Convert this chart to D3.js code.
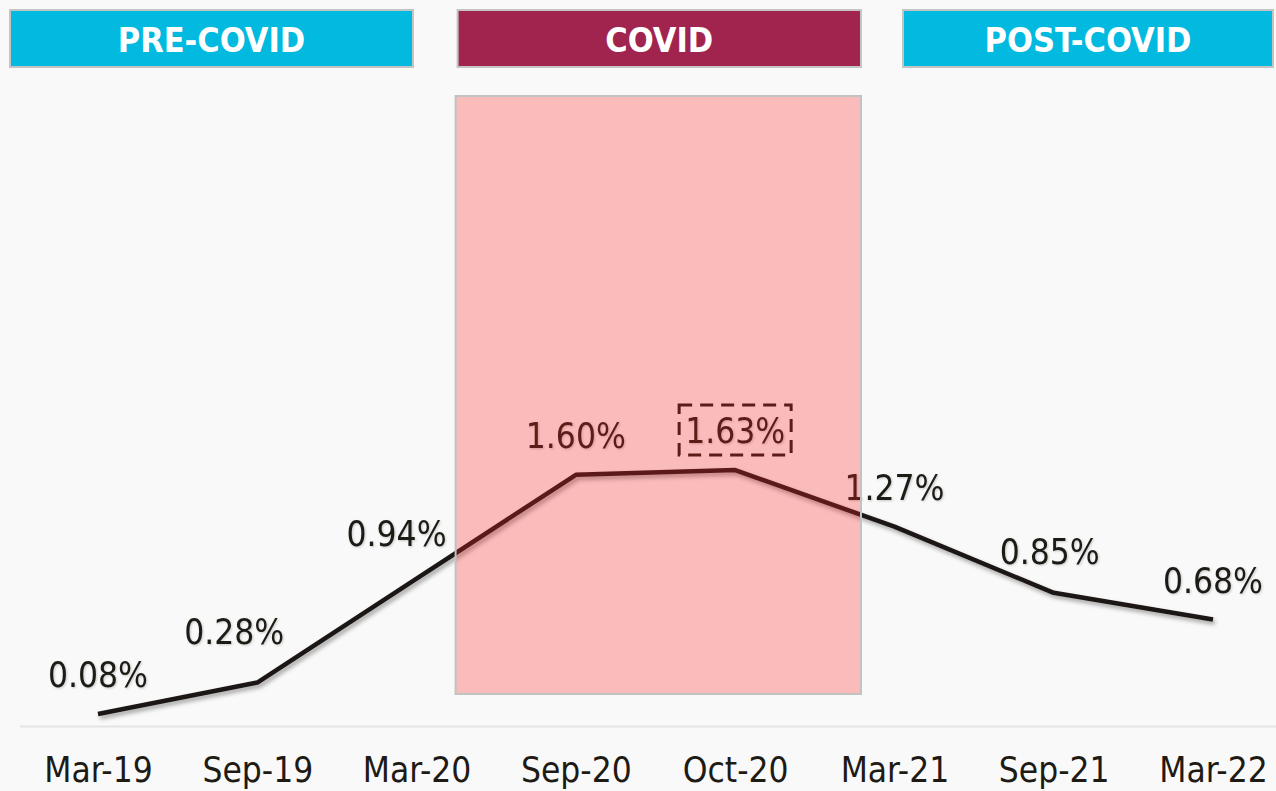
<!DOCTYPE html>
<html>
<head>
<meta charset="utf-8">
<script src="https://cdn.jsdelivr.net/npm/d3@7"></script>
<style>
  html, body { margin: 0; padding: 0; background: #f9f9fa; overflow: hidden; }
  svg { display: block; }
</style>
</head>
<body>
<div id="chart"></div>
<script>
// data
const periods = ["Mar-19", "Sep-19", "Mar-20", "Sep-20", "Oct-20", "Mar-21", "Sep-21", "Mar-22"];
const rates = [0.08, 0.28, 0.94, 1.60, 1.63, 1.27, 0.85, 0.68];
const phases = ["PRE-COVID", "COVID", "POST-COVID"];
const phaseColors = ["#02b9df", "#a1244e", "#02b9df"];
const highlight = "Oct-20";

const W = 1276, H = 791;
const baseY = 726.6;
const font = "'DejaVu Sans Condensed', 'DejaVu Sans', sans-serif";

let svg = d3.select("#chart").append("svg")
    .attr("width", W)
    .attr("height", H);

let defs = svg.append("defs");
let shadow = defs.append("filter").attr("id", "shadow")
    .attr("x", "-10%").attr("y", "-10%").attr("width", "130%").attr("height", "150%");
shadow.append("feDropShadow")
    .attr("dx", 2).attr("dy", 3).attr("stdDeviation", 2)
    .attr("flood-color", "#000").attr("flood-opacity", 0.35);
let tshadow = defs.append("filter").attr("id", "tshadow");
tshadow.append("feDropShadow")
    .attr("dx", 1).attr("dy", 1).attr("stdDeviation", 1)
    .attr("flood-color", "#000").attr("flood-opacity", 0.2);

svg.append("rect").attr("width", W).attr("height", H).attr("fill", "#f9f9fa");

// scales
let x = d3.scalePoint().domain(periods).range([98, 1213]);
let y = d3.scaleLinear().domain([0, 4]).range([baseY, 97]);
const xf = i => x.range()[0] + i * x.step();

// baseline
svg.append("line")
    .attr("x1", 20).attr("x2", W)
    .attr("y1", y(0)).attr("y2", y(0))
    .attr("stroke", "#e4e4e4").attr("stroke-width", 2);

// x axis
let xAxis = svg.append("g")
    .attr("transform", "translate(0," + y(0) + ")")
    .call(d3.axisBottom(x).tickSize(0).tickPadding(31));
xAxis.select(".domain").remove();
xAxis.selectAll("text")
    .attr("font-family", font)
    .attr("font-size", 35)
    .attr("fill", "#1e1a14");

// line
let line = d3.line()
    .x((d, i) => x(periods[i]))
    .y(d => y(d));

svg.append("path")
    .datum(rates)
    .attr("d", line)
    .attr("fill", "none")
    .attr("stroke", "#1a1712")
    .attr("stroke-width", 4.5)
    .attr("stroke-linejoin", "round")
    .attr("filter", "url(#shadow)");

// value labels
const nudge = { "Sep-19": [-23, -12], "Mar-20": [-20, -6], "Sep-21": [-4, -2] };
let labels = svg.append("g").attr("filter", "url(#tshadow)");
labels.selectAll("text")
    .data(rates)
    .enter().append("text")
    .attr("x", (d, i) => x(periods[i]) + (nudge[periods[i]] || [0, 0])[0])
    .attr("y", (d, i) => y(d) - 27 + (nudge[periods[i]] || [0, 0])[1])
    .attr("text-anchor", "middle")
    .attr("font-family", font)
    .attr("font-size", 35)
    .attr("fill", "#1e1a14")
    .text(d => d3.format(".2f")(d) + "%");

// dashed box round the peak
let hi = periods.indexOf(highlight);
svg.append("rect")
    .attr("x", x(highlight) - 56)
    .attr("y", y(rates[hi]) - 65)
    .attr("width", 112)
    .attr("height", 50)
    .attr("fill", "none")
    .attr("stroke", "#1e1a14")
    .attr("stroke-width", 3)
    .attr("stroke-dasharray", "13,8");

// covid band overlay
let bandX0 = xf(2.245), bandX1 = xf(4.79);
svg.append("rect")
    .attr("x", bandX0).attr("y", 96)
    .attr("width", bandX1 - bandX0).attr("height", 598)
    .attr("fill", "#fc2323").attr("fill-opacity", 0.29)
    .attr("stroke", "#c2c2c2").attr("stroke-width", 2);

// phase headers
const headerX = [[10, 413], [bandX0 + 2, bandX1], [903, 1273]];
let heads = svg.selectAll(".head")
    .data(phases)
    .enter().append("g")
    .attr("class", "head");
heads.append("rect")
    .attr("x", (d, i) => headerX[i][0])
    .attr("y", 10)
    .attr("width", (d, i) => headerX[i][1] - headerX[i][0])
    .attr("height", 57)
    .attr("fill", (d, i) => phaseColors[i])
    .attr("stroke", "#c4c4c4")
    .attr("stroke-width", 2);
heads.append("text")
    .attr("x", (d, i) => (headerX[i][0] + headerX[i][1]) / 2)
    .attr("y", 52)
    .attr("text-anchor", "middle")
    .attr("font-family", font)
    .attr("font-weight", "bold")
    .attr("font-size", 34)
    .attr("fill", "#ffffff")
    .text(d => d);
</script>
</body>
</html>
